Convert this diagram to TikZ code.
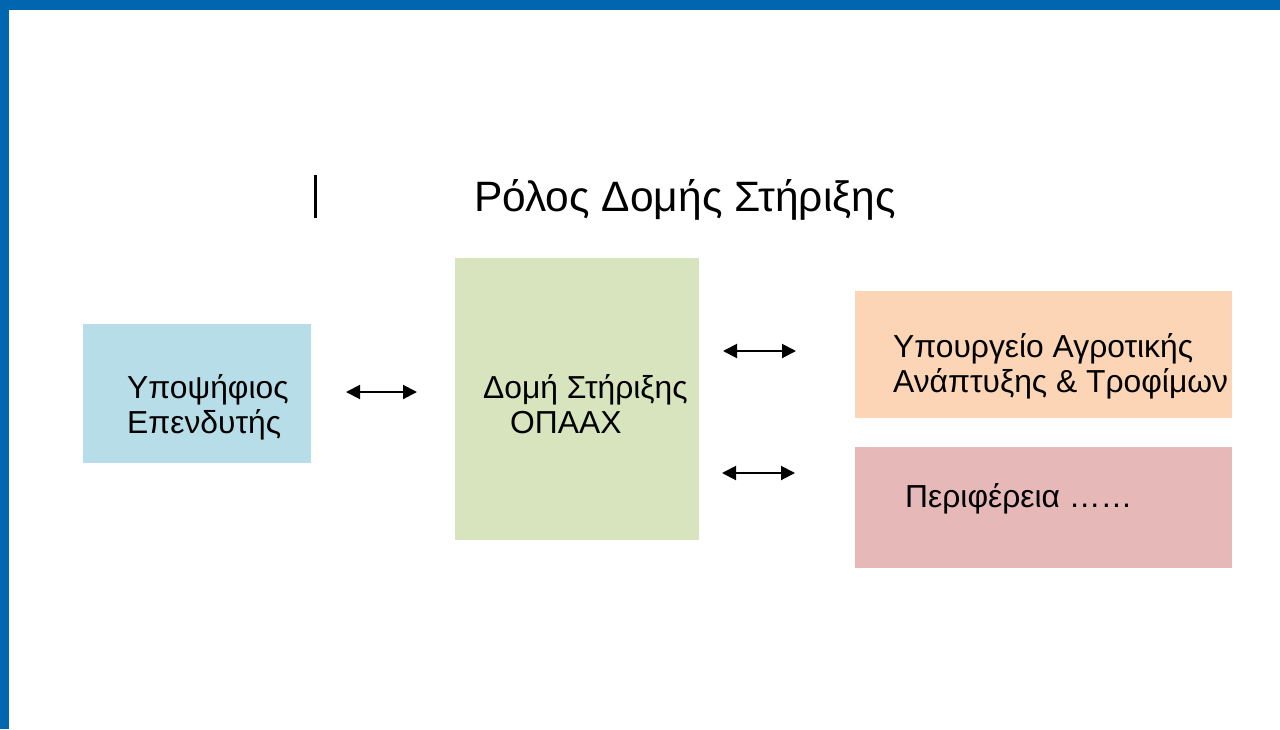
\documentclass[tikz,border=0pt]{standalone}
\usepackage{fontspec}
\setmainfont{Liberation Sans}
\usetikzlibrary{arrows.meta}
\definecolor{frameblue}{RGB}{0,102,176}
\definecolor{boxblue}{RGB}{183,221,232}
\definecolor{boxgreen}{RGB}{215,228,189}
\definecolor{boxorange}{RGB}{251,213,181}
\definecolor{boxpink}{RGB}{230,185,184}
\tikzset{
  box/.style={draw=none, inner sep=0pt, anchor=north west},
  lbl/.style={inner sep=0pt, anchor=base west, font=\fontsize{31.8}{35}\selectfont, text=black},
  dbl/.style={{Triangle[length=14pt,width=14pt]}-{Triangle[length=14pt,width=14pt]}, line width=2pt, black}
}
\begin{document}
\begin{tikzpicture}[x=1pt,y=-1pt]
\useasboundingbox (0,0) rectangle (1280,729);
\fill[white] (0,0) rectangle (1280,729);
\fill[frameblue] (0,0) rectangle (1280,10);
\fill[frameblue] (0,0) rectangle (9,729);
% cursor bar
\draw[line width=3pt, black] (315,175) -- (315,218);
% title
\node[inner sep=0pt, anchor=base west, font=\fontsize{42.5}{46}\selectfont] (title) at (474,211) {Ρόλος Δομής Στήριξης};
% boxes
\node[box, fill=boxblue, minimum width=228pt, minimum height=139pt] (cand) at (83,324) {};
\node[box, fill=boxgreen, minimum width=244pt, minimum height=282pt] (dom) at (455,258) {};
\node[box, fill=boxorange, minimum width=377pt, minimum height=127pt] (min) at (855,291) {};
\node[box, fill=boxpink, minimum width=377pt, minimum height=121pt] (per) at (855,447) {};
% labels
\node[lbl] (candt1) at (127,398) {Υποψήφιος};
\node[lbl] (candt2) at (127,433) {Επενδυτής};
\node[lbl] (domt1) at (483,398) {Δομή Στήριξης};
\node[lbl] (domt2) at (510,433) {ΟΠΑΑΧ};
\node[lbl] (mint1) at (893,357) {Υπουργείο Αγροτικής};
\node[lbl] (mint2) at (893,392) {Ανάπτυξης \& Τροφίμων};
\node[lbl] (pert) at (905,507) {Περιφέρεια ……};
% arrows
\coordinate (a1l) at (346,392); \coordinate (a1r) at (417,392);
\coordinate (a2l) at (723,351); \coordinate (a2r) at (796,351);
\coordinate (a3l) at (722,473); \coordinate (a3r) at (795,473);
\draw[dbl] (a1l) -- (a1r);
\draw[dbl] (a2l) -- (a2r);
\draw[dbl] (a3l) -- (a3r);
\end{tikzpicture}
\end{document}
